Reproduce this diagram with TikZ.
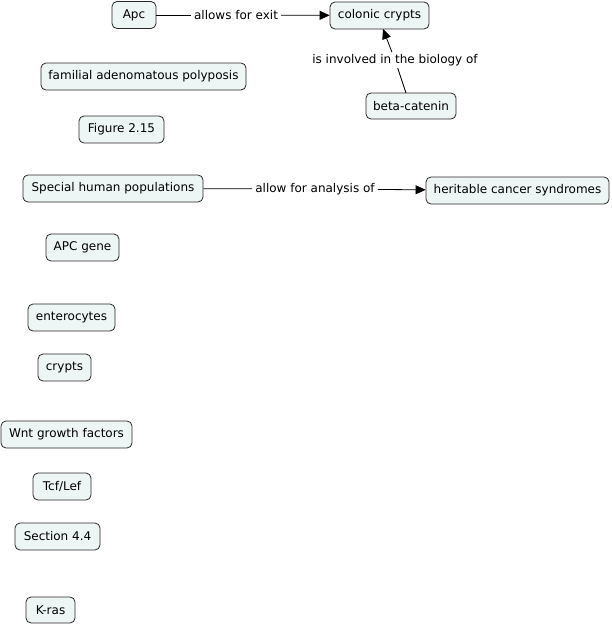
\documentclass[tikz,border=0pt]{standalone}
\usepackage{fontspec}
\setmainfont{DejaVu Sans}
\usetikzlibrary{arrows.meta}
\definecolor{boxfill}{RGB}{238,245,245}
\definecolor{boxline}{RGB}{40,40,40}
\tikzset{
  concept/.style={draw=boxline, line width=0.8pt, fill=boxfill, rounded corners=5pt,
    inner sep=0pt, minimum height=27pt, font=\fontsize{12}{14}\selectfont, text=black, anchor=center},
  linklabel/.style={inner xsep=3pt, inner ysep=2pt, font=\fontsize{12}{14}\selectfont, text=black},
  conn/.style={draw=black, line width=0.8pt},
  arr/.style={conn, -{Triangle[length=10pt,width=9pt]}}
}
\begin{document}
\begin{tikzpicture}[x=1pt,y=-1pt]
\useasboundingbox (0,0) rectangle (611,624);
\node[concept, minimum width=44pt] (apc) at (134,15) {Apc};
\node[concept, minimum width=99pt] (cc) at (379.5,15.5) {colonic crypts};
\node[concept, minimum width=205pt] (fap) at (143.5,76.5) {familial adenomatous polyposis};
\node[concept, minimum width=85pt] (fig) at (121.5,129.5) {Figure 2.15};
\node[concept, minimum width=90pt, minimum height=26pt] (bc) at (411,106) {beta-catenin};
\node[concept, minimum width=180pt] (shp) at (113,188.5) {Special human populations};
\node[concept, minimum width=183pt] (hcs) at (517.5,190.5) {heritable cancer syndromes};
\node[concept, minimum width=73pt] (apcg) at (82.5,247.5) {APC gene};
\node[concept, minimum width=87pt] (ent) at (71.5,317.5) {enterocytes};
\node[concept, minimum width=53pt] (cry) at (64.5,367.5) {crypts};
\node[concept, minimum width=131pt] (wnt) at (66.5,434.5) {Wnt growth factors};
\node[concept, minimum width=58pt] (tcf) at (62,486.5) {Tcf/Lef};
\node[concept, minimum width=85pt] (sec) at (57.5,536.5) {Section 4.4};
\node[concept, minimum width=49pt, minimum height=26pt] (kras) at (50.5,610) {K-ras};

\node[linklabel] (l1) at (236,15) {allows for exit};
\node[linklabel] (l2) at (395,60) {is involved in the biology of};
\node[linklabel] (l3) at (315,189) {allow for analysis of};

\coordinate (bctop) at (406,93);
\coordinate (ccbot) at (383,29);
\draw[conn] (bctop) -- (l2);
\draw[arr] (l2) -- (ccbot);
\draw[conn] (apc) -- (l1);
\draw[arr] (l1) -- (cc);
\draw[conn] (shp) -- (l3);
\draw[arr] (l3) -- (hcs);
\end{tikzpicture}
\end{document}
